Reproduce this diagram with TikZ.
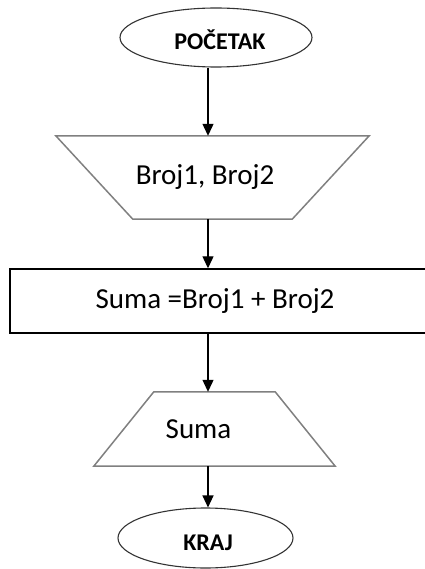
\documentclass[tikz,border=0pt]{standalone}
\usepackage{fontspec}
\setmainfont{Carlito}
\usetikzlibrary{shapes.geometric,arrows.meta,calc}
\begin{document}
\begin{tikzpicture}[x=1pt,y=-1pt,
  term/.style={ellipse,draw=black!80,line width=1.1pt,inner sep=0pt,
    font=\fontsize{24}{26}\selectfont\bfseries,text height=24pt,text depth=0pt},
  io/.style={rectangle,inner sep=0pt,font=\fontsize{29}{32}\selectfont},
  ioline/.style={draw=black!50,line width=1.5pt,line join=miter},
  proc/.style={rectangle,draw=black,line width=1.4pt,inner sep=0pt,
    font=\fontsize{29}{32}\selectfont},
  flow/.style={draw=black,line width=1.2pt,-{Triangle[width=11pt,length=12pt]}}]
\useasboundingbox (0,0) rectangle (424,569);
\coordinate (ax) at (208,0);
\node[term,minimum width=192pt,minimum height=59pt] (start) at (216,37.5) {\hspace*{8pt}POČETAK};
\node[io,minimum width=313pt,minimum height=83pt] (in) at (212.5,177.5) {\hspace*{-15pt}Broj1, Broj2};
\draw[ioline] (in.north west) -- (in.north east) -- ($(in.south east)+(-77,0)$)
  -- ($(in.south west)+(77,0)$) -- cycle;
\node[proc,minimum width=420pt,minimum height=64pt] (sum) at (220,301) {\hspace*{-10pt}Suma =Broj1 + Broj2};
\node[io,minimum width=241pt,minimum height=74pt] (out) at (214.5,429) {\hspace*{-32pt}Suma};
\draw[ioline] ($(out.north west)+(60,0)$) -- ($(out.north east)+(-60,0)$)
  -- (out.south east) -- (out.south west) -- cycle;
\node[term,minimum width=175pt,minimum height=60pt] (end) at (205.5,538) {\hspace*{5pt}KRAJ};
\draw[flow] (start.south -| ax) -- (in.north -| ax);
\draw[flow] (in.south -| ax) -- (sum.north -| ax);
\draw[flow] (sum.south -| ax) -- (out.north -| ax);
\draw[flow] (out.south -| ax) -- (end.north -| ax);
\end{tikzpicture}
\end{document}
